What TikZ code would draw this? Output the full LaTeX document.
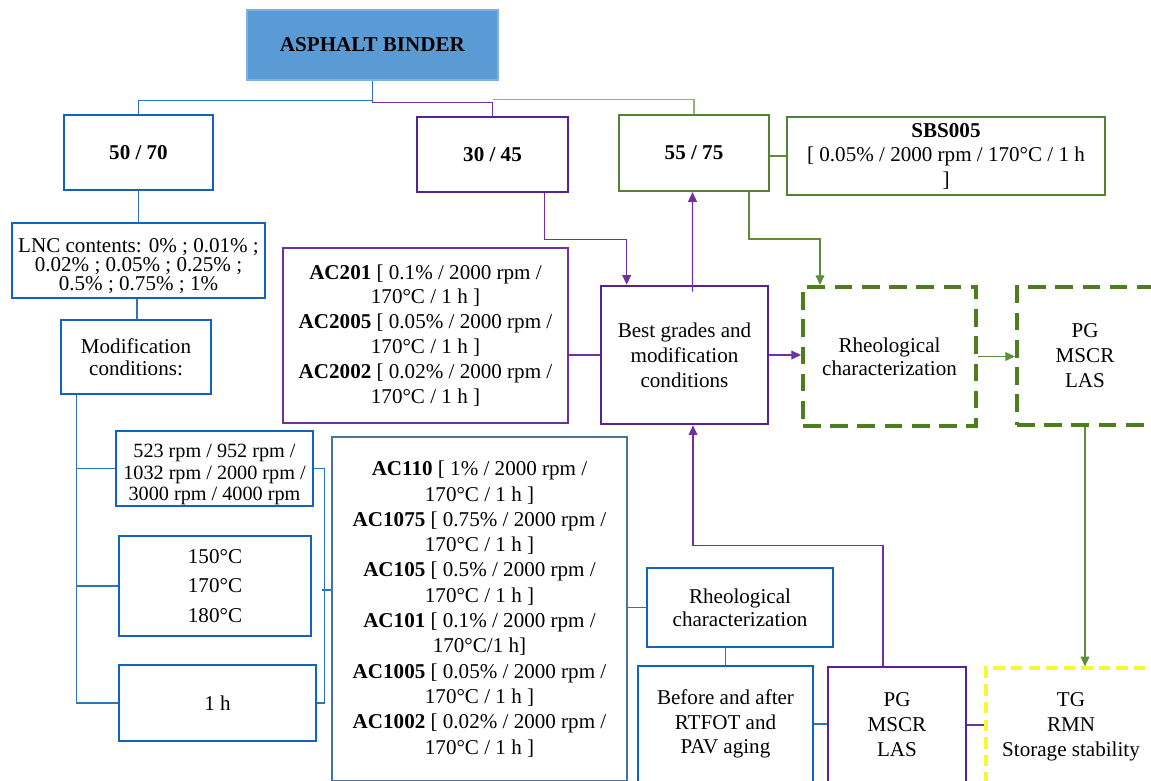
\documentclass[tikz,border=0pt]{standalone}
\usepackage{fontspec}
\setmainfont{Liberation Serif}
\usepackage{tikz}
\usetikzlibrary{arrows.meta,calc}
\definecolor{binderfill}{RGB}{91,155,213}
\definecolor{binderedge}{RGB}{125,177,225}
\definecolor{boxblue}{RGB}{18,98,190}
\definecolor{lineblue}{RGB}{46,117,182}
\definecolor{slateblue}{RGB}{70,115,160}
\definecolor{boxviolet}{RGB}{86,34,150}
\definecolor{lineviolet}{RGB}{112,48,160}
\definecolor{boxgreen}{RGB}{84,130,53}
\definecolor{linegreen}{RGB}{95,140,60}
\definecolor{lightolive}{RGB}{150,178,115}
\definecolor{dashgreen}{RGB}{78,125,30}
\definecolor{dashyellow}{RGB}{248,248,50}

\begin{document}
\begin{tikzpicture}[x=0.02cm, y=-0.02cm,
  every node/.style={font=\fontsize{12}{14.2}\selectfont, align=center, inner sep=0pt, fill=white},
  sz/.style 2 args={minimum width=#1*0.02cm, minimum height=#2*0.02cm},
  binderbox/.style={fill=binderfill, draw=binderedge, line width=0.6pt},
  bluebox/.style={draw=boxblue, line width=1.6pt},
  violetbox/.style={draw=boxviolet, line width=1.5pt},
  greenbox/.style={draw=boxgreen, line width=1.3pt},
  thinviolet/.style={draw=lineviolet, line width=0.7pt},
  thinblue/.style={draw=slateblue, line width=0.7pt},
  dashgreenbox/.style={draw=dashgreen, line width=2.3pt, dash pattern=on 10pt off 5.5pt},
  dashyellowbox/.style={draw=dashyellow, line width=1.9pt, dash pattern=on 6.5pt off 3.5pt},
  blueline/.style={draw=lineblue, line width=0.8pt},
  violetline/.style={draw=lineviolet, line width=0.75pt},
  greenline/.style={draw=linegreen, line width=0.75pt},
  oliveline/.style={draw=lightolive, line width=0.75pt},
  arr/.style={-{Triangle[length=5.5pt,width=5pt]}}]
  \clip (0,0) rectangle (1151,780);
  \fill[white] (0,0) rectangle (1151,780);
  \node[binderbox, sz={251}{70}] (binder) at (372.5,45) {\textbf{ASPHALT BINDER}};
  \node[bluebox, sz={149}{75}] (g5070) at (138.5,152.5) {\textbf{50 / 70}};
  \node[violetbox, sz={151}{75}] (g3045) at (492.5,154.5) {\textbf{30 / 45}};
  \node[greenbox, sz={150}{76}] (g5575) at (694,153) {\textbf{55 / 75}};
  \node[greenbox, sz={318}{78}, font=\fontsize{12}{14}\selectfont] (sbs) at (946,156) {\textbf{SBS005}\\{}[ 0.05\% / 2000 rpm / 170°C / 1 h\\ ]};
  \node[bluebox, sz={253}{75}, font={\fontsize{12}{11}\selectfont\lineskiplimit=-10pt}] (lnc) at (138.5,260.5) {\rule{0pt}{14.5pt}LNC contents: 0\% ; 0.01\% ;\\ 0.02\% ; 0.05\% ; 0.25\% ;\\ 0.5\% ; 0.75\% ; 1\%};
  \node[bluebox, sz={150}{74}, font=\fontsize{12}{12.5}\selectfont] (modc) at (136,357) {Modification\\ conditions:};
  \node[thinviolet, sz={285}{175}] (ac20) at (425.5,335.5) {\textbf{AC201} [ 0.1\% / 2000 rpm /\\ 170°C / 1 h ]\\ \textbf{AC2005} [ 0.05\% / 2000 rpm /\\ 170°C / 1 h ]\\ \textbf{AC2002} [ 0.02\% / 2000 rpm /\\ 170°C / 1 h ]};
  \node[violetbox, sz={167}{138}] (best) at (684.5,355) {Best grades and\\ modification\\ conditions};
  \node[dashgreenbox, sz={173}{139}, font=\fontsize{12}{13}\selectfont] (rheoA) at (889.5,356.5) {Rheological\\ characterization};
  \node[dashgreenbox, sz={136}{138}] (pgA) at (1085,356) {PG\\ MSCR\\ LAS};
  \node[bluebox, sz={197}{75}, font={\fontsize{11.5}{12.2}\selectfont\lineskiplimit=-10pt}] (rpm) at (214.5,468.5) {\rule{0pt}{14.5pt}523 rpm / 952 rpm /\\ 1032 rpm / 2000 rpm /\\ 3000 rpm / 4000 rpm};
  \node[bluebox, sz={192}{100}, font=\fontsize{12}{17}\selectfont] (temp) at (215,586) {150°C\\ 170°C\\ 180°C};
  \node[bluebox, sz={197}{76}] (hour) at (217.5,703) {1 h};
  \node[thinblue, sz={295}{344}, font=\fontsize{12}{14.4}\selectfont] (ac10) at (479.5,609) {\textbf{AC110} [ 1\% / 2000 rpm /\\ 170°C / 1 h ]\\ \textbf{AC1075} [ 0.75\% / 2000 rpm /\\ 170°C / 1 h ]\\ \textbf{AC105} [ 0.5\% / 2000 rpm /\\ 170°C / 1 h ]\\ \textbf{AC101} [ 0.1\% / 2000 rpm /\\ 170°C/1 h]\\ \textbf{AC1005} [ 0.05\% / 2000 rpm /\\ 170°C / 1 h ]\\ \textbf{AC1002} [ 0.02\% / 2000 rpm /\\ 170°C / 1 h ]};
  \node[bluebox, sz={186}{79}, font=\fontsize{12}{13}\selectfont] (rheoB) at (740,607.5) {Rheological\\ characterization};
  \node[bluebox, sz={175}{116}, font=\fontsize{12}{13.9}\selectfont] (aging) at (725.5,724) {Before and after\\ RTFOT and\\ PAV aging};
  \node[violetbox, sz={138}{116}] (pgB) at (897,725) {PG\\ MSCR\\ LAS};
  \node[dashyellowbox, sz={170}{118}] (tg) at (1071,727) {TG\\ RMN\\ Storage stability};
  \draw[oliveline] ($(g3045.north)+(0,-16)$) -| (g5575.north);
  \draw[violetline] (binder.south) -- ++(0,22) -| (g3045.north);
  \draw[blueline] (binder.south) -- ++(0,20) -| (g5070.north);
  \draw[blueline] (g5070.south) -- (lnc.north);
  \draw[blueline] ($(lnc.south)+(-1.5,0)$) -- ($(modc.north)+(1,0)$);
  \draw[blueline] ($(modc.south west)+(17,0)$) |- (rpm.west);
  \draw[blueline] ($(modc.south west)+(17,0)$) |- (temp.west);
  \draw[blueline] ($(modc.south west)+(17,0)$) |- (hour.west);
  \draw[blueline] (rpm.east) -- ++(10,0) |- (hour.east);
  \draw[blueline] ($(ac10.west)+(0,-19)$) -- ++(-9,0);
  \draw[violetline] (best.west -| ac20.east) -- (best.west);
  \draw[violetline, arr] ($(g3045.south)+(52,0)$) -- ++(0,46) -| ($(best.north west)+(27,0)$);
  \draw[violetline, arr] ($(best.north)+(8,7)$) -- ($(g5575.south)+(-1.5,0)$);
  \draw[greenline, arr] ($(g5575.south)+(55,0)$) -- ++(0,47) -| ($(rheoA.north west)+(19,0)$);
  \draw[greenline] (sbs.west -| g5575.east) -- (sbs.west);
  \draw[violetline, arr] (best.east) -- (best.east -| rheoA.west);
  \draw[greenline, arr] (rheoA.east) -- (rheoA.east -| pgA.west);
  \draw[greenline, arr] (pgA.south) -- (pgA.south |- tg.north);
  \draw[blueline] (rheoB.west -| ac10.east) -- (rheoB.west);
  \draw[blueline] (aging.north |- rheoB.south) -- (aging.north);
  \draw[blueline] (aging.east) -- (aging.east -| pgB.west);
  \draw[violetline] (pgB.east) -- (pgB.east -| tg.west);
  \draw[violetline, arr] ($(pgB.north)+(-14,0)$) -- ++(0,-120) -| ($(best.south)+(8.5,0)$);
\end{tikzpicture}
\end{document}
